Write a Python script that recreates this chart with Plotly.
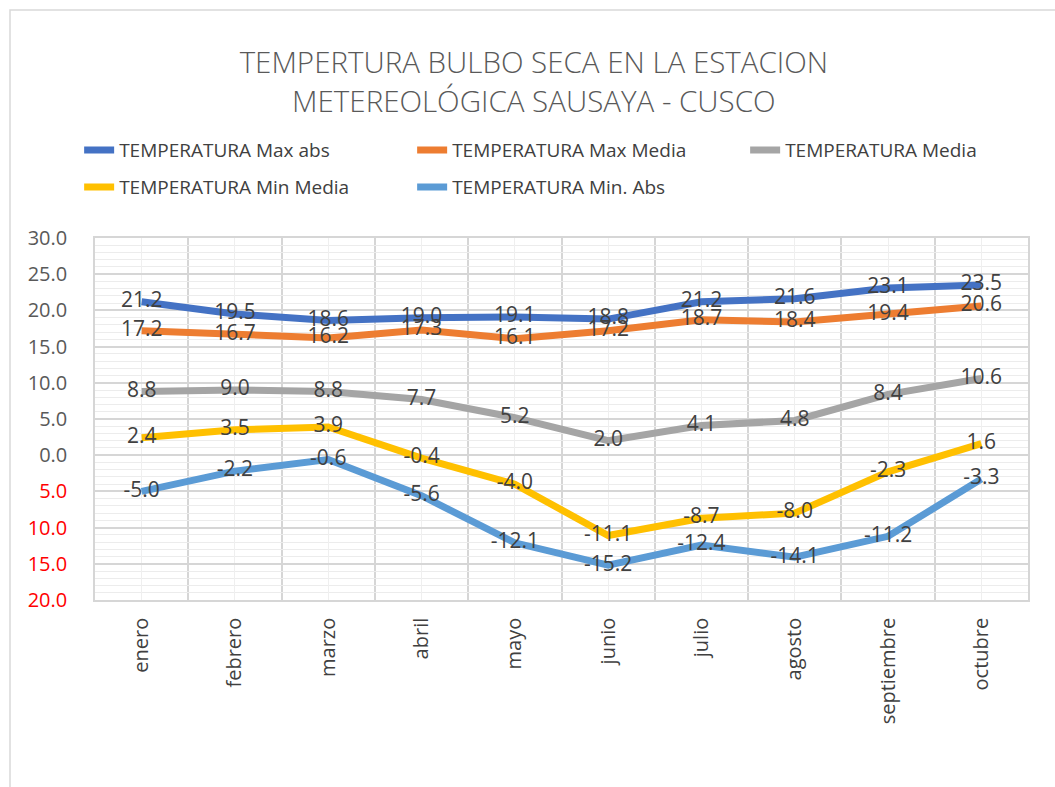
import plotly.graph_objects as go

# Months on the category axis
months = ["enero", "febrero", "marzo", "abril", "mayo", "junio",
          "julio", "agosto", "septiembre", "octubre"]

# Dry-bulb temperature series (°C)
max_abs = [21.2, 19.5, 18.6, 19.0, 19.1, 18.8, 21.2, 21.6, 23.1, 23.5]
max_media = [17.2, 16.7, 16.2, 17.3, 16.1, 17.2, 18.7, 18.4, 19.4, 20.6]
media = [8.8, 9.0, 8.8, 7.7, 5.2, 2.0, 4.1, 4.8, 8.4, 10.6]
min_media = [2.4, 3.5, 3.9, -0.4, -4.0, -11.1, -8.7, -8.0, -2.3, 1.6]
min_abs = [-5.0, -2.2, -0.6, -5.6, -12.1, -15.2, -12.4, -14.1, -11.2, -3.3]

series_names = ["TEMPERATURA Max abs", "TEMPERATURA Max Media", "TEMPERATURA Media",
                "TEMPERATURA Min Media", "TEMPERATURA Min. Abs"]
series_values = [max_abs, max_media, media, min_media, min_abs]
series_colors = ["#4472C4", "#ED7D31", "#A5A5A5", "#FFC000", "#5B9BD5"]

# Legend grid: (column, row) slot of each entry, three per row
legend_slots = [(0, 0), (1, 0), (2, 0), (0, 1), (1, 1)]

# Y tick values; negatives are shown without sign, in red
y_ticks = [30, 25, 20, 15, 10, 5, 0, -5, -10, -15, -20]

FONT = "Open Sans"
x_pos = list(range(len(months)))

fig = go.Figure()

legend_ids = ["legend"] + [f"legend{i}" for i in range(2, len(series_names) + 1)]

for name, vals, col, leg in zip(series_names, series_values, series_colors, legend_ids):
    fig.add_trace(go.Scatter(
        x=x_pos, y=vals, name=name, mode="lines",
        line=dict(color=col, width=7),
        legend=leg, hoverinfo="skip",
    ))

# Data labels drawn above every line
for name, vals in zip(series_names, series_values):
    fig.add_trace(go.Scatter(
        x=x_pos, y=vals, mode="text",
        text=[f"{v:.1f}" for v in vals],
        textposition="middle center",
        textfont=dict(family=FONT, size=21, color="#404040"),
        showlegend=False, hoverinfo="skip",
    ))

def ytick_text(v):
    if v < 0:
        return f"<span style='color:#FF0000'>{abs(v):.1f}</span>"
    return f"{v:.1f}"

# plot area: 933 px wide, 362 px tall
PLOT_W, PLOT_H = 933, 362
COL_STEP, ROW_STEP = 333, 37

legends = {}
for leg, (col, row) in zip(legend_ids, legend_slots):
    legends[leg] = dict(
        orientation="h", xanchor="left", yanchor="top",
        x=-0.017 + col * COL_STEP / PLOT_W,
        y=1.295 - row * ROW_STEP / PLOT_H,
        font=dict(family=FONT, size=19, color="#404040"),
        bgcolor="rgba(0,0,0,0)",
    )

fig.update_layout(
    width=1055, height=787,
    margin=dict(l=95, r=27, t=238, b=187),
    paper_bgcolor="white", plot_bgcolor="white",
    font=dict(family=FONT, color="#404040"),
    title=dict(
        text="TEMPERTURA BULBO SECA EN LA ESTACION<br>METEREOLÓGICA SAUSAYA - CUSCO",
        x=0.506, xanchor="center", y=0.907, yanchor="middle",
        yref="container",
        font=dict(family=FONT, size=29.5, color="#595959", weight=300),
    ),
    xaxis=dict(
        range=[-0.5, len(months) - 0.5],
        tickmode="array", tickvals=x_pos, ticktext=months,
        tickangle=-90,
        tickfont=dict(family=FONT, size=20, color="#404040"),
        showgrid=True, gridcolor="#efefef", gridwidth=1,
        minor=dict(tickmode="array",
                   tickvals=[i - 0.5 for i in range(len(months) + 1)],
                   showgrid=True, gridcolor="#d6d6d6", gridwidth=1.5,
                   ticks=""),
        ticks="", showline=True, linecolor="#d6d6d6", linewidth=1.5,
        mirror=True, zeroline=False, fixedrange=True,
        ticklabelstandoff=8,
    ),
    yaxis=dict(
        range=[-20, 30],
        tickmode="array", tickvals=y_ticks,
        ticktext=[ytick_text(v) for v in y_ticks],
        tickfont=dict(family=FONT, size=20, color="#595959"),
        showgrid=True, gridcolor="#d6d6d6", gridwidth=1.5,
        minor=dict(dtick=1, tick0=0, showgrid=True, gridcolor="#ececec",
                   gridwidth=1, ticks=""),
        ticks="", showline=True, linecolor="#d6d6d6", linewidth=1.5,
        mirror=True, zeroline=False, fixedrange=True,
        ticklabelstandoff=22,
    ),
    shapes=[dict(
        type="rect", xref="paper", yref="paper",
        x0=(10 - 95) / PLOT_W, x1=(1070 - 95) / PLOT_W,
        y0=(600 - 800) / PLOT_H, y1=(600 - 10) / PLOT_H,
        line=dict(color="#d9d9d9", width=1.5), fillcolor="rgba(0,0,0,0)",
        layer="below",
    )],
    **legends,
)

fig.write_html("out.html")
